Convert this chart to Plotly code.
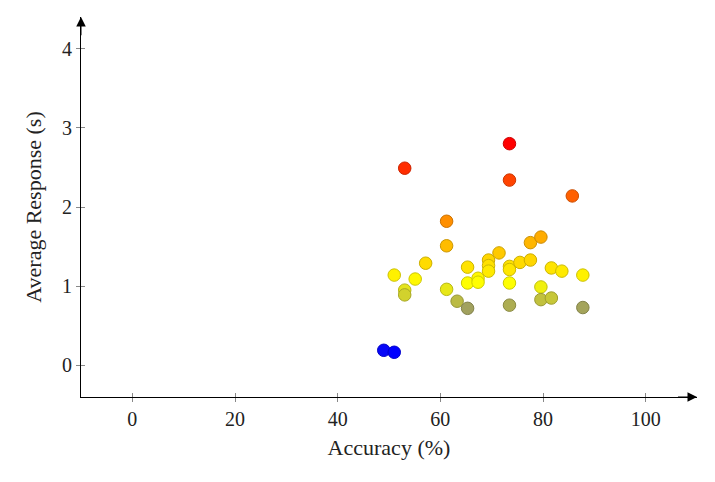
import plotly.graph_objects as go

accuracy = [48.98, 51.02, 53.06, 73.47, 73.47, 85.71, 61.22, 61.22,
            51.02, 53.06, 53.06, 55.10, 57.14, 61.22, 63.27, 65.31,
            65.31, 65.31, 67.35, 67.35, 69.39, 69.39, 69.39, 71.43,
            73.47, 73.47, 73.47, 73.47, 75.51, 77.55, 77.55, 79.59,
            79.59, 79.59, 81.63, 81.63, 83.67, 87.76, 87.76]
response = [0.19, 0.165, 2.49, 2.80, 2.34, 2.14, 1.82, 1.51,
            1.14, 0.95, 0.89, 1.09, 1.29, 0.96, 0.81, 0.72,
            1.24, 1.04, 1.10, 1.05, 1.33, 1.26, 1.19, 1.42,
            1.25, 1.21, 1.04, 0.76, 1.30, 1.33, 1.55, 1.62,
            0.99, 0.83, 1.23, 0.85, 1.19, 1.14, 0.73]

x_ticks = [0, 20, 40, 60, 80, 100]
y_ticks = [0, 1, 2, 3, 4]
x_title = "Accuracy (%)"
y_title = "Average Response (s)"

fill_scale = [[0, "rgb(0,0,255)"], [1/3, "rgb(255,255,0)"],
              [2/3, "rgb(255,128,0)"], [1, "rgb(255,0,0)"]]
edge_scale = [[0, "rgb(0,0,204)"], [1/3, "rgb(204,204,0)"],
              [2/3, "rgb(204,102,0)"], [1, "rgb(204,0,0)"]]
cmin, cmax = min(response), max(response)

FONT = "Liberation Serif"
TXT = "#222222"
XR = [-10, 110]
YR = [-0.4, 4.4]

fig = go.Figure()
fig.add_trace(go.Scatter(
    x=accuracy, y=response, mode="markers",
    marker=dict(size=12.5, color=response, colorscale=fill_scale,
                cmin=cmin, cmax=cmax,
                line=dict(width=1, color=response, colorscale=edge_scale,
                          cmin=cmin, cmax=cmax)),
    showlegend=False, hoverinfo="x+y"))

common = dict(showgrid=False, zeroline=False, tickcolor="#888888",
              ticklen=4, tickwidth=1, automargin=False,
              tickfont=dict(family=FONT, size=20, color=TXT))
fig.update_layout(
    width=707, height=474,
    margin=dict(l=73, r=18, t=9, b=85),
    paper_bgcolor="white", plot_bgcolor="white",
    xaxis=dict(range=XR, tickvals=x_ticks, ticks="outside",
               showline=True, linecolor="black", linewidth=1,
               title=dict(text=x_title, font=dict(family=FONT, size=22, color=TXT), standoff=10),
               **common),
    yaxis=dict(range=YR, tickvals=y_ticks, ticks="outside",
               showline=True, linecolor="black", linewidth=1,
               title=dict(text=y_title, font=dict(family=FONT, size=22, color=TXT), standoff=14),
               **common),
    xaxis2=dict(range=XR, tickvals=x_ticks, ticks="inside", overlaying="x",
                matches="x", showticklabels=False, side="bottom", anchor="y",
                showgrid=False, zeroline=False, tickcolor="#888888", ticklen=4),
    yaxis2=dict(range=YR, tickvals=y_ticks, ticks="inside", overlaying="y",
                matches="y", showticklabels=False, side="left", anchor="x",
                showgrid=False, zeroline=False, tickcolor="#888888", ticklen=4),
)
fig.add_trace(go.Scatter(x=[None], y=[None], xaxis="x2", yaxis="y2",
                         showlegend=False, hoverinfo="skip"))

fig.add_annotation(x=XR[1], y=YR[0], ax=XR[1] - 4, ay=YR[0], xref="x", yref="y",
                   axref="x", ayref="y", showarrow=True, arrowhead=2,
                   arrowsize=1.9, arrowwidth=1, arrowcolor="black", text="")
fig.add_annotation(x=XR[0], y=YR[1], ax=XR[0], ay=YR[1] - 0.25, xref="x", yref="y",
                   axref="x", ayref="y", showarrow=True, arrowhead=2,
                   arrowsize=1.9, arrowwidth=1, arrowcolor="black", text="")

fig.write_html("out.html")
